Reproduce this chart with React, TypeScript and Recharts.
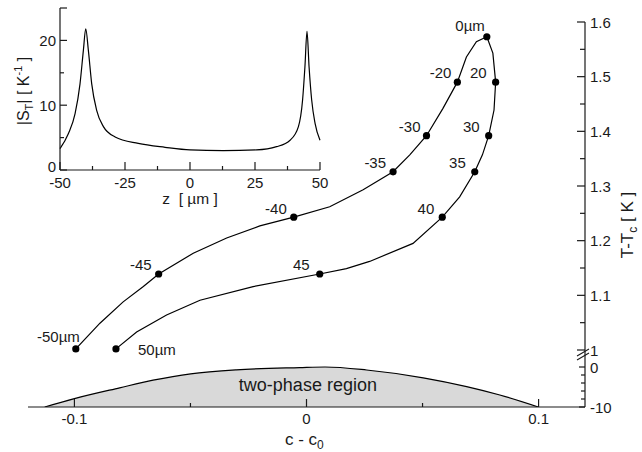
import { ComposedChart, LineChart, Line, Area, XAxis, YAxis, ReferenceDot } from 'recharts';

const FONT = '"Liberation Sans", Arial, Helvetica, sans-serif';
const INK = '#1a1a1a';

// page geometry of the main plot
const AXIS_X = 585; // right T axis
const AXIS_Y = 407; // bottom c axis
// page geometry of the inset
const IN_X = 60;
const IN_Y = 170;

// left branch, z = -50um .. 0um
const leftC = [-0.0994, -0.089, -0.079, -0.0703, -0.0637, -0.0488, -0.0344, -0.0201, -0.0055, 0.01, 0.0244, 0.0373, 0.0445, 0.0517, 0.0588, 0.065, 0.0689, 0.0732, 0.0777];
const leftT = [1.002, 1.049, 1.088, 1.116, 1.139, 1.177, 1.205, 1.227, 1.243, 1.262, 1.293, 1.326, 1.357, 1.392, 1.442, 1.49, 1.536, 1.564, 1.573];
const leftTag = ['-50µm', '', '', '', '-45', '', '', '', '-40', '', '', '-35', '', '-30', '', '-20', '', '', '0µm'];

// right branch, z = 0um .. 50um
const rightC = [0.0777, 0.0803, 0.0815, 0.0808, 0.0785, 0.0758, 0.0725, 0.066, 0.0585, 0.0459, 0.0272, 0.0172, 0.0057, -0.023, -0.0459, -0.0603, -0.0732, -0.0821];
const rightT = [1.573, 1.543, 1.49, 1.439, 1.392, 1.357, 1.326, 1.28, 1.243, 1.195, 1.162, 1.149, 1.139, 1.116, 1.091, 1.064, 1.033, 1.002];
const rightTag = ['', '', '20', '', '30', '', '35', '', '40', '', '', '', '45', '', '', '', '', '50µm'];

// two-phase boundary (lower, compressed T scale)
const phaseC = [-0.1128, -0.1, -0.0805, -0.0661, -0.0499, -0.0302, -0.003, 0.008, 0.0259, 0.0503, 0.069, 0.0833, 0.0999];
const phaseT = [-10, -7.9, -5.2, -3.3, -1.7, -0.7, -0.15, 0, -0.75, -2.7, -4.9, -7, -10];

// inset |S_T| vs z
const zPos = [-50, -46.8, -44.2, -42.3, -41, -40.1, -39.1, -37.8, -35.9, -33.3, -28.8, -19.9, -9.6, 0, 12.8, 25.6, 33.3, 38.5, 41.7, 43.3, 44.2, 45, 45.8, 46.8, 48.1, 50];
const stVal = [3.3, 5.6, 8.7, 13.3, 18.5, 21.8, 18.5, 13.3, 9.2, 6.7, 5.1, 4.1, 3.5, 3.1, 3.0, 3.1, 3.6, 4.6, 6.7, 10.8, 15.9, 21.4, 15.9, 10.8, 7.2, 4.6];

const cTicks = [-0.1, -0.05, 0, 0.05, 0.1];
const tTicks = [1, 1.05, 1.1, 1.15, 1.2, 1.25, 1.3, 1.35, 1.4, 1.45, 1.5, 1.55, 1.6];
const tLowTicks = [-10, -8, -6, -4, -2, 0];
const zTicks = [-50, -37.5, -25, -12.5, 0, 12.5, 25, 37.5, 50];
const sTicks = [0, 5, 10, 15, 20, 25];

// where each point label sits relative to its dot
const tagPlace: Record<string, [number, number, 'start' | 'end']> = {
  '0µm': [-2, -6, 'end'],
  '-20': [-6, -4, 'end'],
  '20': [-9, -4, 'end'],
  '-30': [-6, -4, 'end'],
  '30': [-9, -4, 'end'],
  '-35': [-7, -4, 'end'],
  '35': [-9, -4, 'end'],
  '-40': [-7, -3, 'end'],
  '40': [-8, -3, 'end'],
  '-45': [-7, -4, 'end'],
  '45': [-10, -4, 'end'],
  '-50µm': [4, -7, 'end'],
  '50µm': [22, 6, 'start'],
};

const leftData = leftC.map((c, i) => ({ x: c, y: leftT[i], tag: leftTag[i] }));
const rightData = rightC.map((c, i) => ({ x: c, y: rightT[i], tag: rightTag[i] }));
const phaseData = phaseC.map((c, i) => ({ x: c, y: phaseT[i] }));
const insetData = zPos.map((z, i) => ({ z, s: stVal[i] }));

const txt = { fontFamily: FONT, fill: INK };

function TagDot(props: any) {
  const { cx, cy, payload } = props;
  const tag = payload?.tag;
  if (!tag) return <g />;
  const [dx, dy, anchor] = tagPlace[tag];
  return (
    <g>
      <circle cx={cx} cy={cy} r={3.6} fill="#000" />
      <text x={cx + dx} y={cy + dy} textAnchor={anchor} fontSize={15} {...txt}>
        {tag}
      </text>
    </g>
  );
}

function TTick(props: any) {
  const { y, payload } = props;
  const v = payload.value;
  const major = Math.abs(v * 10 - Math.round(v * 10)) < 1e-6;
  return (
    <g>
      <line x1={AXIS_X - (major ? 8 : 5)} x2={AXIS_X} y1={y} y2={y} stroke={INK} strokeWidth={1.2} />
      {major && (
        <text x={AXIS_X + 5} y={y + 5.5} fontSize={15} {...txt}>
          {v === 1 ? '1' : v.toFixed(1)}
        </text>
      )}
      {v === 1 && (
        <g stroke={INK} strokeWidth={1.1}>
          <line x1={AXIS_X - 8} y1={y + 6} x2={AXIS_X + 4} y2={y - 1} />
          <line x1={AXIS_X - 8} y1={y + 10} x2={AXIS_X + 4} y2={y + 3} />
        </g>
      )}
    </g>
  );
}

function TLowTick(props: any) {
  const { y, payload } = props;
  const v = payload.value;
  const major = v === 0 || v === -10;
  return (
    <g>
      <line x1={AXIS_X - (major ? 6 : 4)} x2={AXIS_X} y1={y} y2={y} stroke={INK} strokeWidth={1.2} />
      {major && (
        <text x={AXIS_X + 5} y={y + 5.5} fontSize={15} {...txt}>
          {String(v)}
        </text>
      )}
    </g>
  );
}

function CTick(props: any) {
  const { x, payload } = props;
  const v = payload.value;
  const major = Math.abs(v * 10 - Math.round(v * 10)) < 1e-6;
  return (
    <g>
      <line x1={x} x2={x} y1={AXIS_Y} y2={AXIS_Y - (major ? 8 : 4)} stroke={INK} strokeWidth={1.2} />
      {major && (
        <text x={x} y={AXIS_Y + 17} textAnchor="middle" fontSize={15} {...txt}>
          {v === 0 ? '0' : String(v)}
        </text>
      )}
    </g>
  );
}

function ZTick(props: any) {
  const { x, payload } = props;
  const v = payload.value;
  const major = v % 25 === 0;
  return (
    <g>
      <line x1={x} x2={x} y1={IN_Y} y2={IN_Y - (major ? 8 : 4)} stroke={INK} strokeWidth={1.2} />
      {major && (
        <text x={x} y={IN_Y + 18} textAnchor="middle" fontSize={15} {...txt}>
          {String(v)}
        </text>
      )}
    </g>
  );
}

function STick(props: any) {
  const { y, payload } = props;
  const v = payload.value;
  const labelled = v % 10 === 0;
  const long = labelled || v === 25;
  return (
    <g>
      <line x1={IN_X} x2={IN_X + (long ? 7 : 4)} y1={y} y2={y} stroke={INK} strokeWidth={1.2} />
      {labelled && (
        <text x={IN_X - 4} y={v === 0 ? y + 1.5 : y + 5.5} textAnchor="end" fontSize={15} {...txt}>
          {String(v)}
        </text>
      )}
    </g>
  );
}

const CTitle = () => (
  <text x={285} y={445} fontSize={17} {...txt} style={{ whiteSpace: 'pre' }}>
    c - c<tspan dy={4} fontSize={12}>0</tspan>
  </text>
);

const TTitle = () => (
  <text x={633} y={225} transform="rotate(-90 633 225)" textAnchor="middle" fontSize={17} {...txt} style={{ whiteSpace: 'pre' }}>
    T-T<tspan dy={4} fontSize={12}>c</tspan>
    <tspan dy={-4}> [ K ]</tspan>
  </text>
);

const ZTitle = () => (
  <text x={190} y={204} textAnchor="middle" fontSize={15.5} {...txt} style={{ whiteSpace: 'pre' }}>
    z  [ µm ]
  </text>
);

const STitle = () => (
  <text x={29} y={91} transform="rotate(-90 29 91)" textAnchor="middle" fontSize={16} {...txt} style={{ whiteSpace: 'pre' }}>
    |S<tspan dy={4} fontSize={11}>T</tspan>
    <tspan dy={-4}>| [ K</tspan>
    <tspan dy={-7} fontSize={11}>-1</tspan>
    <tspan dy={7}> ]</tspan>
  </text>
);

const layer: React.CSSProperties = { position: 'absolute', left: 0, top: 0 };

export default function App() {
  return (
    <div style={{ position: 'absolute', left: 0, top: 0, width: 642, height: 452, background: '#fff' }}>
      {/* lower part: two-phase region and c axis */}
      <div style={layer}>
        <ComposedChart width={642} height={452} data={phaseData} margin={{ top: 350, right: 0, left: 28, bottom: 0 }}>
          <XAxis
            type="number"
            dataKey="x"
            domain={[-0.12, 0.12]}
            allowDataOverflow
            ticks={cTicks}
            interval={0}
            height={45}
            tickLine={false}
            axisLine={{ stroke: INK, strokeWidth: 1.2 }}
            tick={(p: any) => <CTick {...p} />}
            label={<CTitle />}
          />
          <YAxis
            orientation="right"
            type="number"
            domain={[-10, 4.25]}
            allowDataOverflow
            ticks={tLowTicks}
            interval={0}
            width={57}
            tickLine={false}
            axisLine={{ stroke: INK, strokeWidth: 1.2 }}
            tick={(p: any) => <TLowTick {...p} />}
          />
          <Area
            dataKey="y"
            type="monotone"
            baseValue="dataMin"
            fill="#d9d9d9"
            fillOpacity={1}
            stroke="#000"
            strokeWidth={1.2}
            isAnimationActive={false}
          />
          <ReferenceDot
            x={0.0006}
            y={-4.3}
            r={0}
            stroke="none"
            fill="none"
            label={{ value: 'two-phase region', position: 'center', fontSize: 18, fill: INK, fontFamily: FONT }}
          />
        </ComposedChart>
      </div>
      {/* upper part: the two branches */}
      <div style={layer}>
        <ComposedChart width={642} height={452} margin={{ top: 22, right: 0, left: 28, bottom: 102 }}>
          <XAxis type="number" dataKey="x" domain={[-0.12, 0.12]} hide />
          <YAxis
            orientation="right"
            type="number"
            domain={[1, 1.6]}
            ticks={tTicks}
            interval={0}
            width={57}
            tickLine={false}
            axisLine={{ stroke: INK, strokeWidth: 1.2 }}
            tick={(p: any) => <TTick {...p} />}
            label={<TTitle />}
          />
          <Line data={leftData} dataKey="y" type="linear" stroke="#000" strokeWidth={1.2} dot={(p: any) => <TagDot {...p} />} activeDot={false} isAnimationActive={false} />
          <Line data={rightData} dataKey="y" type="linear" stroke="#000" strokeWidth={1.2} dot={(p: any) => <TagDot {...p} />} activeDot={false} isAnimationActive={false} />
        </ComposedChart>
      </div>
      {/* inset */}
      <div style={layer}>
        <LineChart width={340} height={210} data={insetData} margin={{ top: 8, right: 20, left: 0, bottom: 0 }}>
          <XAxis
            type="number"
            dataKey="z"
            domain={[-50, 50]}
            ticks={zTicks}
            interval={0}
            height={40}
            tickLine={false}
            axisLine={{ stroke: INK, strokeWidth: 1.2 }}
            tick={(p: any) => <ZTick {...p} />}
            label={<ZTitle />}
          />
          <YAxis
            type="number"
            domain={[0, 25]}
            ticks={sTicks}
            interval={0}
            width={60}
            tickLine={false}
            axisLine={{ stroke: INK, strokeWidth: 1.2 }}
            tick={(p: any) => <STick {...p} />}
            label={<STitle />}
          />
          <Line dataKey="s" type="monotone" stroke="#000" strokeWidth={1.2} dot={false} activeDot={false} isAnimationActive={false} />
        </LineChart>
      </div>
    </div>
  );
}
